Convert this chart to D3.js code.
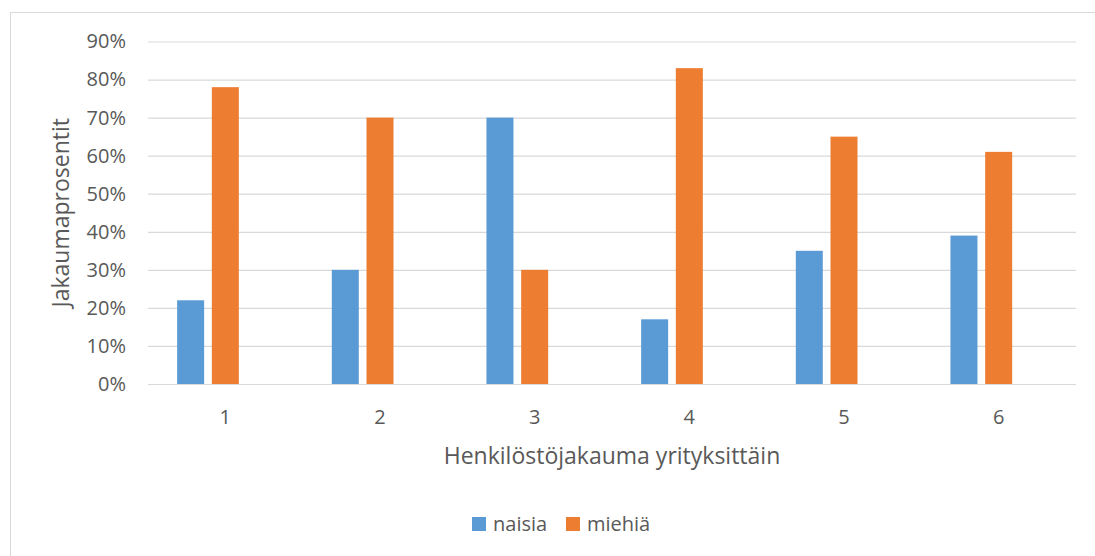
<!DOCTYPE html>
<html>
<head>
<meta charset="utf-8">
<script src="https://cdn.jsdelivr.net/npm/d3@7"></script>
<style>
  html, body { margin: 0; padding: 0; background: #fff; }
  svg { display: block; font-family: "Open Sans", "Noto Sans", sans-serif; }
</style>
</head>
<body>
<svg id="chart" width="1095" height="556"></svg>
<script>
// Staff distribution by company: share of women and men
const categories = ["1", "2", "3", "4", "5", "6"];
const seriesNames = ["naisia", "miehiä", ""];
const naisia = [22, 30, 70, 17, 35, 39];
const miehia = [78, 70, 30, 83, 65, 61];
const tyhja = [null, null, null, null, null, null]; // empty third series slot
const yTicks = [0, 10, 20, 30, 40, 50, 60, 70, 80, 90];
const colors = ["#5B9BD5", "#ED7D31", "#A5A5A5"];

const series = [naisia, miehia, tyhja];

const svg = d3.select("#chart");
const W = 1095, H = 556;
const plot = { left: 148, right: 1076, top: 41.5, bottom: 384 };

// Outer chart frame
svg.append("rect")
  .attr("x", 10.5).attr("y", 12.5)
  .attr("width", W + 20).attr("height", H + 20)
  .attr("fill", "#fff").attr("stroke", "#d9d9d9").attr("stroke-width", 1);

const x = d3.scaleBand().domain(categories).range([plot.left, plot.right]).paddingInner(0).paddingOuter(0);
const y = d3.scaleLinear().domain([0, 90]).range([plot.bottom, plot.top]);

// Bars within each category: width 27 with gaps of ~7.7 (gap width 219%)
const groupW = x.bandwidth() * 96.4 / 154.67;
const xs = d3.scaleBand().domain(d3.range(series.length)).range([0, groupW]).paddingInner(7.7 / 34.7).paddingOuter(0);

// Gridlines and value axis labels
const yAxis = d3.axisLeft(y).tickValues(yTicks).tickSize(-(plot.right - plot.left)).tickFormat(d => d + "%");
const gy = svg.append("g").attr("transform", `translate(${plot.left},0)`).call(yAxis);
gy.select(".domain").remove();
gy.selectAll(".tick line").attr("stroke", "#d9d9d9").attr("stroke-width", 1.2);
gy.selectAll(".tick text")
  .attr("x", -22).attr("fill", "#595959")
  .style("font-size", "20px").style("font-family", "'Open Sans', sans-serif");

// Bars
series.forEach((vals, si) => {
  svg.append("g").selectAll("rect")
    .data(vals.map((v, i) => ({ v, c: categories[i] })).filter(d => d.v != null))
    .join("rect")
    .attr("x", d => x(d.c) + (x.bandwidth() - groupW) / 2 + xs(si))
    .attr("y", d => y(d.v))
    .attr("width", xs.bandwidth())
    .attr("height", d => y(0) - y(d.v))
    .attr("fill", colors[si]);
});

// Category labels
const xAxis = d3.axisBottom(x).tickSize(0);
const gx = svg.append("g").attr("transform", `translate(0,${plot.bottom})`).call(xAxis);
gx.select(".domain").remove();
gx.selectAll(".tick text")
  .attr("dy", 0).attr("y", 40).attr("fill", "#595959")
  .style("font-size", "20px").style("font-family", "'Open Sans', sans-serif");

// Axis titles
svg.append("text")
  .attr("x", (plot.left + plot.right) / 2).attr("y", 464)
  .attr("text-anchor", "middle").attr("fill", "#595959")
  .style("font-size", "23px")
  .text("Henkilöstöjakauma yrityksittäin");

svg.append("text")
  .attr("transform", `translate(69,${(plot.top + plot.bottom) / 2}) rotate(-90)`)
  .attr("text-anchor", "middle").attr("fill", "#595959")
  .style("font-size", "23px")
  .text("Jakaumaprosentit");

// Legend
const legendItems = [
  { name: seriesNames[0], color: colors[0], x: 472 },
  { name: seriesNames[1], color: colors[1], x: 566 }
];
const lg = svg.append("g");
legendItems.forEach(it => {
  lg.append("rect").attr("x", it.x).attr("y", 517).attr("width", 14).attr("height", 14).attr("fill", it.color);
  lg.append("text").attr("x", it.x + 21).attr("y", 531)
    .attr("fill", "#595959").style("font-size", "20px")
    .text(it.name);
});
</script>
</body>
</html>
